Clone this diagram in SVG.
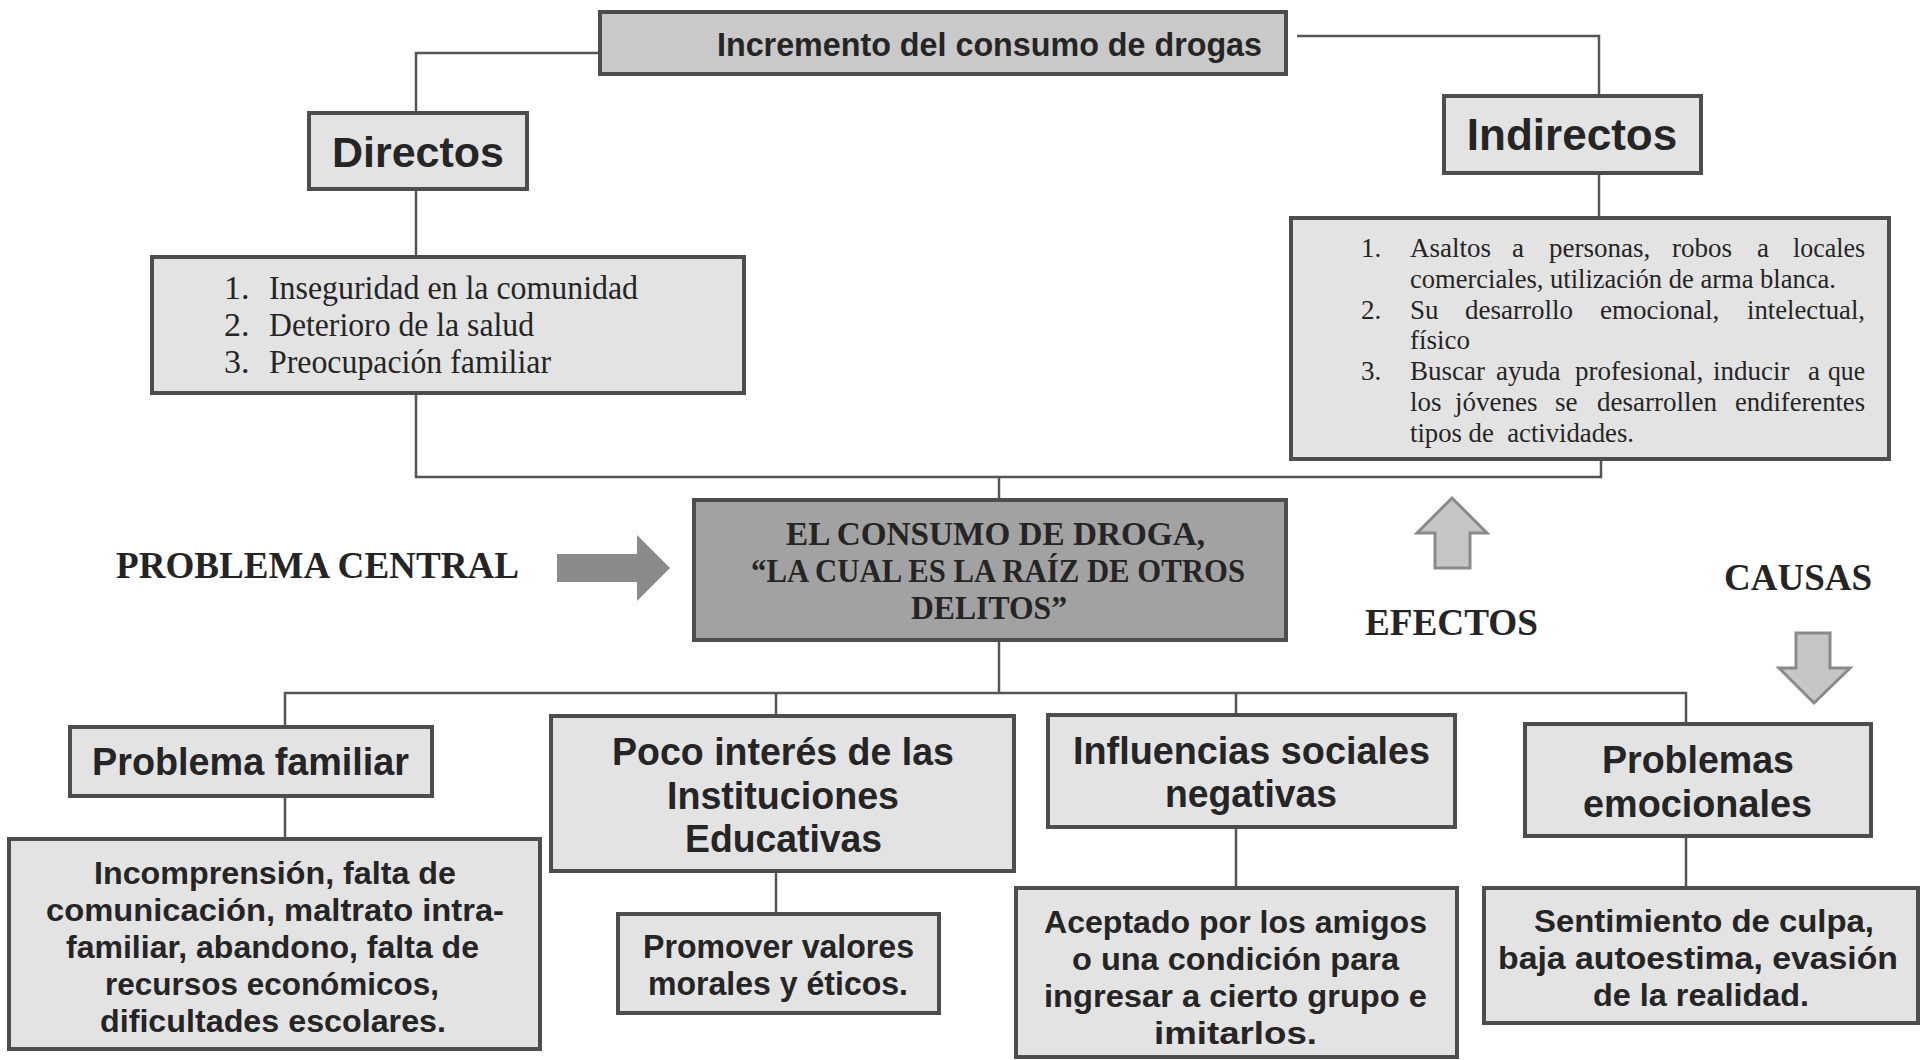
<svg xmlns="http://www.w3.org/2000/svg" width="1920" height="1060" viewBox="0 0 1920 1060">
<style>
  .box { fill: #e3e3e3; stroke: #4d4d4d; stroke-width: 4; }
  .top { fill: #c9c9c9; stroke: #4d4d4d; stroke-width: 4; }
  .central { fill: #a2a2a2; stroke: #4d4d4d; stroke-width: 4; }
  .conn { fill: none; stroke: #555555; stroke-width: 2.5; }
  .sans { font-family: "Liberation Sans", Arial, sans-serif; font-weight: bold; fill: #252525; }
  .serif { font-family: "Liberation Serif", "Times New Roman", serif; fill: #252525; }
  .serifb { font-family: "Liberation Serif", "Times New Roman", serif; font-weight: bold; fill: #252525; }
  .mid { text-anchor: middle; }
  .bigarrow { fill: #8a8a8a; }
  .hollow { fill: #c6c6c6; stroke: #8a8a8a; stroke-width: 3; stroke-linejoin: miter; }
</style>
<rect width="1920" height="1060" fill="#ffffff"/>

<g id="connectors">
  <path class="conn" d="M 600 53 H 416 V 113"/>
  <path class="conn" d="M 416 189 V 257"/>
  <path class="conn" d="M 416 393 V 477 H 1601 V 459"/>
  <path class="conn" d="M 999 477 V 500"/>
  <path class="conn" d="M 1297 36 H 1599 V 96"/>
  <path class="conn" d="M 1599 173 V 218"/>
  <path class="conn" d="M 999 640 V 693"/>
  <path class="conn" d="M 285 727 V 693 H 1686 V 724"/>
  <path class="conn" d="M 776 693 V 716"/>
  <path class="conn" d="M 1236 693 V 715"/>
  <path class="conn" d="M 285 796 V 839"/>
  <path class="conn" d="M 776 871 V 914"/>
  <path class="conn" d="M 1236 827 V 888"/>
  <path class="conn" d="M 1686 836 V 888"/>
</g>

<g id="top-node">
  <rect class="top" x="600" y="12" width="686" height="62"/>
  <text class="sans" x="717" y="56" font-size="34" textLength="545" lengthAdjust="spacingAndGlyphs">Incremento del consumo de drogas</text>
</g>

<g id="directos">
  <rect class="box" x="309" y="113" width="218" height="76"/>
  <text class="sans mid" x="418" y="167" font-size="43">Directos</text>
</g>

<g id="directos-list">
  <rect class="box" x="152" y="257" width="592" height="136"/>
  <text class="serif" font-size="34">
    <tspan x="224" y="299">1.</tspan><tspan x="269" y="299" textLength="369" lengthAdjust="spacingAndGlyphs">Inseguridad en la comunidad</tspan>
    <tspan x="224" y="336">2.</tspan><tspan x="269" y="336" textLength="265" lengthAdjust="spacingAndGlyphs">Deterioro de la salud</tspan>
    <tspan x="224" y="373">3.</tspan><tspan x="269" y="373" textLength="282" lengthAdjust="spacingAndGlyphs">Preocupación familiar</tspan>
  </text>
</g>

<g id="indirectos">
  <rect class="box" x="1444" y="96" width="257" height="77"/>
  <text class="sans mid" x="1572" y="150" font-size="44">Indirectos</text>
</g>

<g id="indirectos-list">
  <rect class="box" x="1291" y="218" width="598" height="241"/>
  <text class="serif" font-size="27" xml:space="preserve">
    <tspan x="1361" y="257">1.</tspan>
    <tspan x="1410" y="257">Asaltos</tspan><tspan x="1512" y="257">a</tspan><tspan x="1549" y="257">personas,</tspan><tspan x="1672" y="257">robos</tspan><tspan x="1757" y="257">a</tspan><tspan x="1793" y="257" textLength="72" lengthAdjust="spacingAndGlyphs">locales</tspan>
    <tspan x="1410" y="288" textLength="426" lengthAdjust="spacingAndGlyphs">comerciales, utilización de arma blanca.</tspan>
    <tspan x="1361" y="319">2.</tspan>
    <tspan x="1410" y="319">Su</tspan><tspan x="1465" y="319">desarrollo</tspan><tspan x="1600" y="319">emocional,</tspan><tspan x="1747" y="319" textLength="118" lengthAdjust="spacingAndGlyphs">intelectual,</tspan>
    <tspan x="1410" y="349">físico</tspan>
    <tspan x="1361" y="380">3.</tspan>
    <tspan x="1410" y="380">Buscar</tspan><tspan x="1496" y="380">ayuda</tspan><tspan x="1575" y="380">profesional,</tspan><tspan x="1713" y="380">inducir</tspan><tspan x="1808" y="380">a</tspan><tspan x="1828" y="380" textLength="37" lengthAdjust="spacingAndGlyphs">que</tspan>
    <tspan x="1410" y="411">los</tspan><tspan x="1455" y="411">jóvenes</tspan><tspan x="1555" y="411">se</tspan><tspan x="1597" y="411">desarrollen</tspan><tspan x="1735" y="411" textLength="130" lengthAdjust="spacingAndGlyphs">endiferentes</tspan>
    <tspan x="1410" y="442" textLength="224" lengthAdjust="spacingAndGlyphs">tipos de  actividades.</tspan>
  </text>
</g>

<g id="problema-central-label">
  <text class="serifb" x="116" y="578" font-size="38" textLength="403" lengthAdjust="spacingAndGlyphs">PROBLEMA CENTRAL</text>
  <polygon class="bigarrow" points="557,554 637,554 637,535 670,568 637,601 637,582 557,582"/>
</g>

<g id="central">
  <rect class="central" x="694" y="500" width="592" height="140"/>
  <text class="serifb" font-size="33">
    <tspan x="786" y="545" textLength="419" lengthAdjust="spacingAndGlyphs">EL CONSUMO DE DROGA,</tspan>
    <tspan x="751" y="582" textLength="494" lengthAdjust="spacingAndGlyphs">“LA CUAL ES LA RAÍZ DE OTROS</tspan>
    <tspan x="911" y="619" textLength="156" lengthAdjust="spacingAndGlyphs">DELITOS”</tspan>
  </text>
</g>

<g id="efectos">
  <polygon class="hollow" points="1452,498 1487,533 1470,533 1470,568 1435,568 1435,533 1417,533"/>
  <text class="serifb" x="1365" y="635" font-size="38" textLength="173" lengthAdjust="spacingAndGlyphs">EFECTOS</text>
</g>

<g id="causas">
  <text class="serifb" x="1724" y="590" font-size="38" textLength="148" lengthAdjust="spacingAndGlyphs">CAUSAS</text>
  <polygon class="hollow" points="1796,633 1830,633 1830,668 1850,668 1814,703 1779,668 1796,668"/>
</g>

<g id="problema-familiar">
  <rect class="box" x="70" y="727" width="362" height="69"/>
  <text class="sans" x="92" y="775" font-size="39" textLength="317" lengthAdjust="spacingAndGlyphs">Problema familiar</text>
</g>

<g id="familiar-detalle">
  <rect class="box" x="9" y="839" width="531" height="210"/>
  <text class="sans" font-size="32">
    <tspan x="94" y="884" textLength="362" lengthAdjust="spacingAndGlyphs">Incomprensión, falta de</tspan>
    <tspan x="46" y="921" textLength="458" lengthAdjust="spacingAndGlyphs">comunicación, maltrato intra-</tspan>
    <tspan x="66" y="958" textLength="413" lengthAdjust="spacingAndGlyphs">familiar, abandono, falta de</tspan>
    <tspan x="105" y="995" textLength="334" lengthAdjust="spacingAndGlyphs">recursos económicos,</tspan>
    <tspan x="100" y="1032" textLength="346" lengthAdjust="spacingAndGlyphs">dificultades escolares.</tspan>
  </text>
</g>

<g id="poco-interes">
  <rect class="box" x="551" y="716" width="463" height="155"/>
  <text class="sans" font-size="39">
    <tspan x="612" y="765" textLength="342" lengthAdjust="spacingAndGlyphs">Poco interés de las</tspan>
    <tspan x="667" y="809" textLength="232" lengthAdjust="spacingAndGlyphs">Instituciones</tspan>
    <tspan x="685" y="852" textLength="197" lengthAdjust="spacingAndGlyphs">Educativas</tspan>
  </text>
</g>

<g id="promover">
  <rect class="box" x="618" y="914" width="321" height="99"/>
  <text class="sans" font-size="33">
    <tspan x="643" y="958" textLength="271" lengthAdjust="spacingAndGlyphs">Promover valores</tspan>
    <tspan x="648" y="995" textLength="260" lengthAdjust="spacingAndGlyphs">morales y éticos.</tspan>
  </text>
</g>

<g id="influencias">
  <rect class="box" x="1048" y="715" width="407" height="112"/>
  <text class="sans" font-size="39">
    <tspan x="1073" y="764" textLength="357" lengthAdjust="spacingAndGlyphs">Influencias sociales</tspan>
    <tspan x="1165" y="807" textLength="172" lengthAdjust="spacingAndGlyphs">negativas</tspan>
  </text>
</g>

<g id="aceptado">
  <rect class="box" x="1016" y="888" width="441" height="169"/>
  <text class="sans" font-size="32">
    <tspan x="1044" y="933" textLength="383" lengthAdjust="spacingAndGlyphs">Aceptado por los amigos</tspan>
    <tspan x="1072" y="970" textLength="327" lengthAdjust="spacingAndGlyphs">o una condición para</tspan>
    <tspan x="1044" y="1007" textLength="383" lengthAdjust="spacingAndGlyphs">ingresar a cierto grupo e</tspan>
    <tspan x="1154" y="1044" textLength="163" lengthAdjust="spacingAndGlyphs">imitarlos.</tspan>
  </text>
</g>

<g id="problemas-emocionales">
  <rect class="box" x="1525" y="724" width="346" height="112"/>
  <text class="sans" font-size="39">
    <tspan x="1602" y="773" textLength="192" lengthAdjust="spacingAndGlyphs">Problemas</tspan>
    <tspan x="1583" y="817" textLength="229" lengthAdjust="spacingAndGlyphs">emocionales</tspan>
  </text>
</g>

<g id="sentimiento">
  <rect class="box" x="1484" y="888" width="434" height="135"/>
  <text class="sans" font-size="32">
    <tspan x="1534" y="932" textLength="340" lengthAdjust="spacingAndGlyphs">Sentimiento de culpa,</tspan>
    <tspan x="1498" y="969" textLength="400" lengthAdjust="spacingAndGlyphs">baja autoestima, evasión</tspan>
    <tspan x="1593" y="1006" textLength="216" lengthAdjust="spacingAndGlyphs">de la realidad.</tspan>
  </text>
</g>
</svg>
